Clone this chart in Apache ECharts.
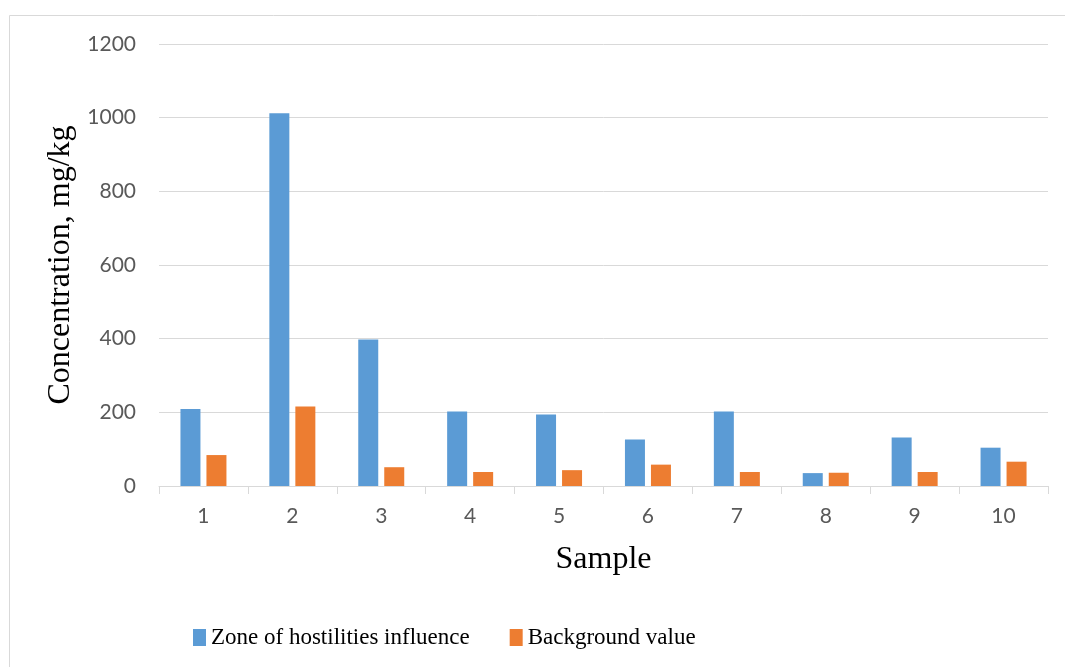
<!DOCTYPE html>
<html>
<head>
<meta charset="utf-8">
<script src="https://cdn.jsdelivr.net/npm/echarts@6/dist/echarts.min.js"></script>
<style>
html,body{margin:0;padding:0;background:#fff;}
#chart{width:1065px;height:667px;}
</style>
</head>
<body>
<div id="chart"></div>
<script>
const categories = ['1','2','3','4','5','6','7','8','9','10'];
const zoneValues = [209, 1012, 398, 202, 194, 126, 202, 35, 132, 104];
const backgroundValues = [84, 216, 51, 38, 43, 58, 38, 36, 38, 66];
const seriesNames = ['Zone of hostilities influence', 'Background value'];
const yTicks = { min: 0, max: 1200, interval: 200 };

const chart = echarts.init(document.getElementById('chart'), null, { renderer: 'canvas' });
const serif = 'Liberation Serif, Times New Roman, serif';
const sans = 'Lato, Liberation Sans, sans-serif';

chart.setOption({
  backgroundColor: '#ffffff',
  animation: false,
  graphic: [{
    type: 'rect',
    shape: { x: 9.5, y: 15.5, width: 1070, height: 670 },
    style: { fill: 'none', stroke: '#d9d9d9', lineWidth: 1 },
    silent: true, z: -1
  }],
  grid: { left: 159, right: 17, top: 44, bottom: 181 },
  legend: {
    data: seriesNames,
    left: 188,
    top: 621,
    itemWidth: 13,
    itemHeight: 17,
    itemGap: 40,
    icon: 'rect',
    textStyle: { fontFamily: serif, fontSize: 23, color: '#000' }
  },
  xAxis: {
    type: 'category',
    data: categories,
    name: 'Sample',
    nameLocation: 'middle',
    nameGap: 58,
    nameTextStyle: { fontFamily: serif, fontSize: 32, color: '#000' },
    axisLine: { show: true, lineStyle: { color: '#d9d9d9', width: 1 } },
    axisTick: { show: true, length: 8, lineStyle: { color: '#d9d9d9' } },
    axisLabel: { fontFamily: sans, fontSize: 21, color: '#595959', margin: 20 }
  },
  yAxis: {
    type: 'value',
    min: yTicks.min,
    max: yTicks.max,
    interval: yTicks.interval,
    name: 'Concentration, mg/kg',
    nameLocation: 'middle',
    nameGap: 82,
    nameRotate: 90,
    nameTextStyle: { fontFamily: serif, fontSize: 32, color: '#000' },
    axisLine: { show: false },
    axisTick: { show: false },
    splitLine: { lineStyle: { color: '#d9d9d9', width: 1 } },
    axisLabel: { fontFamily: sans, fontSize: 21, color: '#595959', margin: 23, formatter: v => String(v) }
  },
  series: [
    {
      name: seriesNames[0],
      type: 'bar',
      data: zoneValues,
      barWidth: 20,
      barGap: '30%',
      itemStyle: { color: '#5B9BD5' }
    },
    {
      name: seriesNames[1],
      type: 'bar',
      data: backgroundValues,
      barWidth: 20,
      barGap: '30%',
      itemStyle: { color: '#ED7D31' }
    }
  ]
});
</script>
</body>
</html>
